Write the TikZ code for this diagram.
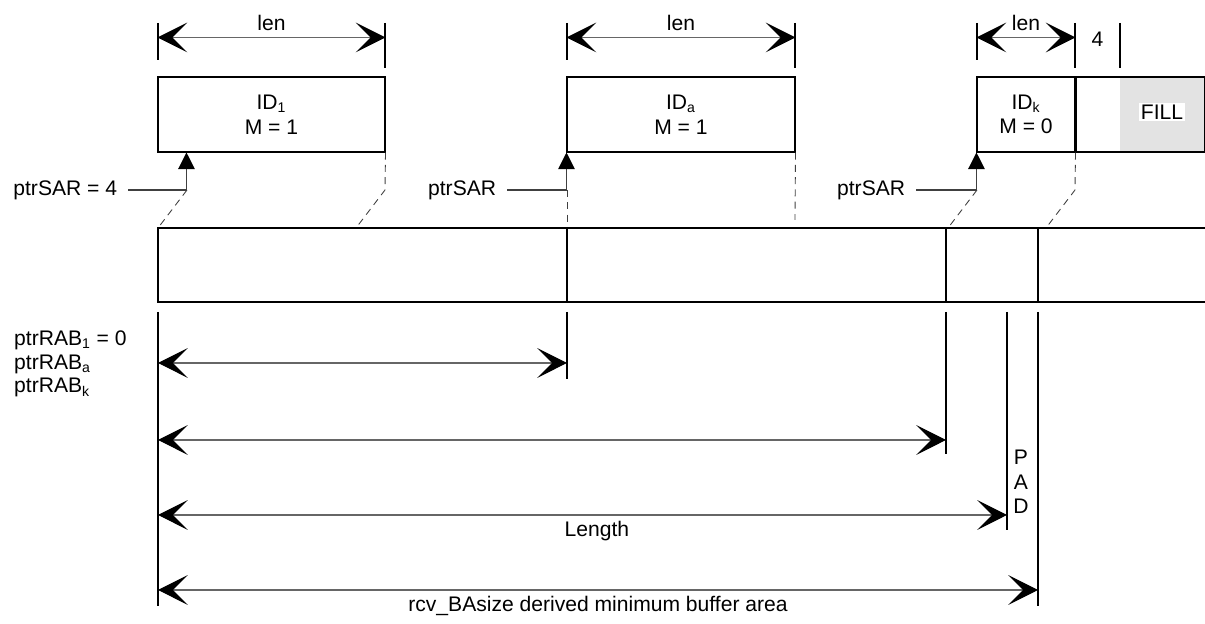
\documentclass[tikz,border=0pt]{standalone}
\usepackage{fontspec}
\setmainfont{Liberation Sans}
\usetikzlibrary{arrows.meta}
\tikzset{
  field/.style={draw, line width=0.6pt, minimum height=1.5cm, inner sep=0pt, align=center},
  dimline/.style={<->, draw=black!60, line width=0.6pt},
  guide/.style={draw=black!75, line width=0.5pt, dash pattern=on 4pt off 3pt},
  sarline/.style={draw=black!75, line width=0.6pt, -{Triangle[length=9.5pt,width=9.5pt,color=black]}},
  ext/.style={line width=0.6pt},
  buf/.style={line width=0.8pt}
}
\begin{document}
\begin{tikzpicture}[x=0.02cm, y=-0.02cm, font=\fontsize{12}{14}\selectfont,
    >={Stealth[length=17pt,width=17pt,inset=8.5pt,color=black]}]
  \useasboundingbox (0,0) rectangle (1205,624);

  % received segments
  \node[field, minimum width=4.54cm] (id1) at (271.5,114.5) {ID\textsubscript{1}\\M = 1};
  \node[field, minimum width=4.56cm] (ida) at (681,114.5) {ID\textsubscript{a}\\M = 1};
  \node[field, minimum width=1.96cm] (idk) at (1026,114.5) {ID\textsubscript{k}\\M = 0};
  \fill[gray!22] (1120,77) rectangle (1204,152);
  \node[field, minimum width=2.58cm, anchor=west] (tail) at (idk.east) {};
  \node[fill=white, inner sep=1pt] (fill) at (1162,112) {FILL};

  % len marks
  \foreach \x in {158,567,977} \draw[ext] (\x,23) -- (\x,60);
  \foreach \x in {385,795,1075,1120} \draw[ext] (\x,23) -- (\x,68);
  \draw[dimline] ([yshift=0.78cm]id1.north west) -- node[above] {len} ([yshift=0.78cm]id1.north east);
  \draw[dimline] ([yshift=0.78cm]ida.north west) -- node[above] {len} ([yshift=0.78cm]ida.north east);
  \draw[dimline] ([yshift=0.78cm]idk.north west) -- node[above] {len} ([yshift=0.78cm]idk.north east);
  \node (four) at (1097.5,39) {4};

  % ptrSAR
  \node[anchor=east, inner sep=6pt] (sar1) at (128,190) {ptrSAR = 4};
  \node[anchor=east, inner sep=6pt] (sara) at (507,190) {ptrSAR};
  \node[anchor=east, inner sep=6pt] (sark) at (916,190) {ptrSAR};
  \draw[sarline] (sar1.east) -| ([xshift=0.58cm]id1.south west);
  \draw[sarline] (sara.east) -| (ida.south west);
  \draw[sarline] (sark.east) -| (idk.south west);

  % mapping into the buffer
  \draw[guide] (187,190) -- (158,228);
  \draw[guide] (id1.south east) -- (385,190) -- (356,228);
  \draw[guide] (567,190) -- (567,228);
  \draw[guide] (ida.south east) -- (795,220);
  \draw[guide] (977,190) -- (948,228);
  \draw[guide] (idk.south east) -- (1075,190) -- (1046,228);

  % reassembly buffer
  \draw[buf] (1205,228) -| (158,302) -- (1205,302);
  \foreach \x in {567,946,1038} \draw[buf] (\x,228) -- (\x,302);

  % offsets
  \draw[ext] (158,312) -- (158,606);
  \draw[ext] (567,312) -- (567,379);
  \draw[ext] (946,312) -- (946,454);
  \draw[ext] (1007,312) -- (1007,530);
  \draw[ext] (1038,312) -- (1038,606);
  \node[anchor=west, align=left, font=\fontsize{12}{13.5}\selectfont] (rab) at (8,364)
    {ptrRAB\textsubscript{1} = 0\\ptrRAB\textsubscript{a}\\ptrRAB\textsubscript{k}};
  \node[align=center] (pad) at (1021,482) {P\\A\\D};

  \draw[dimline] (158,363) -- (567,363);
  \draw[dimline] (158,440) -- (946,440);
  \draw[dimline] (158,515) -- node[pos=0.517, below] {Length} (1007,515);
  \draw[dimline] (158,590) -- node[below] {rcv\_BAsize derived minimum buffer area} (1038,590);
\end{tikzpicture}
\end{document}
